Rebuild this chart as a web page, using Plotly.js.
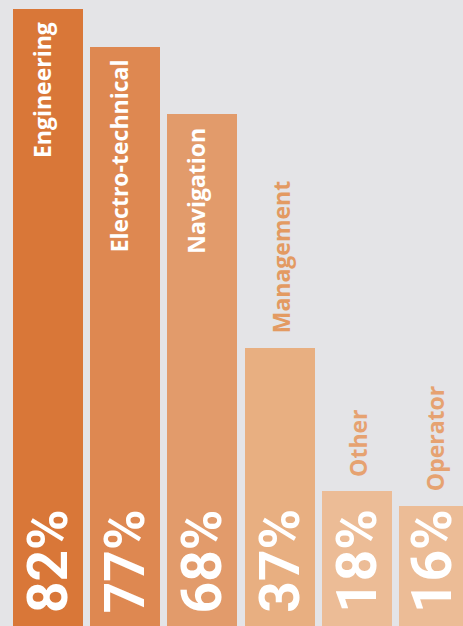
<!DOCTYPE html>
<html>
<head>
<meta charset="utf-8">
<script src="https://cdn.plot.ly/plotly-3.0.1.min.js"></script>
<style>html,body{margin:0;padding:0;background:#e4e4e7;}#chart{width:463px;height:626px;}</style>
</head>
<body>
<div id="chart"></div>
<script>
const categories = ["Engineering", "Electro-technical", "Navigation", "Management", "Other", "Operator"];
const values = [82, 77, 68, 37, 18, 16];
const barColors = ["#d97738", "#de8851", "#e29b6b", "#e8af81", "#ecbc96", "#ecbc96"];
const labelInside = [true, true, true, false, false, false];
const outsideLabelColors = ["", "", "", "#e39a62", "#e6a271", "#e6a271"];

const xs = categories.map((c, i) => i);

const trace = {
  type: "bar",
  x: xs,
  y: values,
  width: 0.907,
  marker: { color: barColors, line: { width: 0 } },
  hoverinfo: "none",
  showlegend: false
};

const annotations = [];
values.forEach((v, i) => {
  annotations.push({
    x: i, y: 0, xref: "x", yref: "y",
    text: v + "%",
    textangle: -90,
    showarrow: false,
    xanchor: "center", yanchor: "bottom",
    yshift: 12,
    xshift: i === 5 ? -2 : 0,
    borderpad: 0,
    font: { family: "Roboto, 'DejaVu Sans', sans-serif", size: 55, color: "#ffffff", weight: 700 }
  });
  if (labelInside[i]) {
    annotations.push({
      x: i, y: v, xref: "x", yref: "y",
      text: categories[i],
      textangle: -90,
      showarrow: false,
      xanchor: "center", yanchor: "top",
      yshift: -12,
      xshift: -6,
      borderpad: 0,
      font: { family: "'Open Sans', sans-serif", size: 23, color: "#ffffff", weight: 700 }
    });
  } else {
    annotations.push({
      x: i, y: v, xref: "x", yref: "y",
      text: categories[i],
      textangle: -90,
      showarrow: false,
      xanchor: "center", yanchor: "bottom",
      yshift: 13,
      xshift: 1,
      borderpad: 0,
      font: { family: "'Open Sans', sans-serif", size: 23, color: outsideLabelColors[i], weight: 700 }
    });
  }
});

const layout = {
  width: 463, height: 626,
  margin: { l: 0, r: 0, t: 0, b: 0, pad: 0 },
  paper_bgcolor: "#e4e4e7",
  plot_bgcolor: "#e4e4e7",
  xaxis: { range: [-0.6218, 5.375], visible: false, fixedrange: true },
  yaxis: { range: [0, 83.2], visible: false, fixedrange: true },
  annotations: annotations,
  bargap: 0
};

Plotly.newPlot("chart", [trace], layout, { displayModeBar: false, staticPlot: true });
</script>
</body>
</html>
